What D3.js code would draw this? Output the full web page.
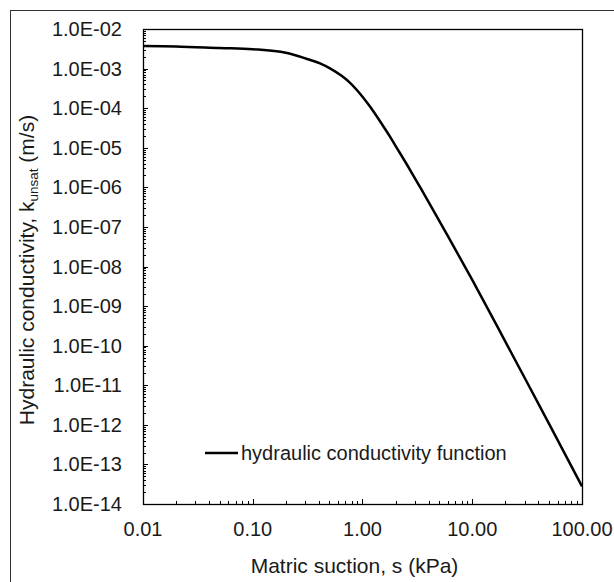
<!DOCTYPE html>
<html>
<head>
<meta charset="utf-8">
<script src="https://cdn.jsdelivr.net/npm/d3@7"></script>
<style>
  html, body { margin: 0; padding: 0; background: #fff; }
  svg { display: block; }
  text { font-family: "Liberation Sans", Arial, sans-serif; fill: #1a1a1a; }
</style>
</head>
<body>
<svg id="chart" width="614" height="582"></svg>
<script>
// Matric suction (kPa)
const suction = [0.01, 0.02, 0.05, 0.1, 0.2, 0.3, 0.41, 0.51, 0.65, 0.77, 1.0, 1.17, 1.5, 1.78, 2.0, 2.7, 3.34, 4.38, 6, 10, 19.2, 30, 50, 100];
// Hydraulic conductivity k_unsat (m/s)
const conductivity = [3.72e-3, 3.63e-3, 3.31e-3, 3.09e-3, 2.51e-3, 1.82e-3, 1.35e-3, 1.0e-3, 6.46e-4, 4.37e-4, 1.95e-4, 1.10e-4, 3.98e-5, 1.91e-5, 1.12e-5, 2.82e-6, 1.02e-6, 2.75e-7, 5.89e-8, 4.57e-9, 1.58e-10, 1.55e-11, 1.07e-12, 2.8e-14];
const xTicks = [0.01, 0.1, 1, 10, 100];
const xTickLabels = ["0.01", "0.10", "1.00", "10.00", "100.00"];
const yTicks = [1e-2, 1e-3, 1e-4, 1e-5, 1e-6, 1e-7, 1e-8, 1e-9, 1e-10, 1e-11, 1e-12, 1e-13, 1e-14];
const yTickLabels = ["1.0E-02", "1.0E-03", "1.0E-04", "1.0E-05", "1.0E-06", "1.0E-07", "1.0E-08", "1.0E-09", "1.0E-10", "1.0E-11", "1.0E-12", "1.0E-13", "1.0E-14"];
const seriesName = "hydraulic conductivity function";

const svg = d3.select("#chart");
const pL = 143, pR = 582, pT = 29, pB = 504;

// outer frame
svg.append("rect").attr("x", 10.5).attr("y", 10.5).attr("width", 700).attr("height", 700)
  .attr("fill", "none").attr("stroke", "#333").attr("stroke-width", 1);

const x = d3.scaleLog().domain([0.01, 100]).range([pL, pR]);
const y = d3.scaleLog().domain([1e-14, 1e-2]).range([pB, pT]);

const g = svg.append("g");

// minor ticks
const xMinor = [];
for (let e = -2; e < 2; e++) for (let m = 2; m <= 9; m++) xMinor.push(m * Math.pow(10, e));
const yMinor = [];
for (let e = -14; e < -2; e++) for (let m = 2; m <= 9; m++) yMinor.push(m * Math.pow(10, e));

g.selectAll(".xminor").data(xMinor).enter().append("line")
  .attr("x1", d => Math.round(x(d)) + 0.5).attr("x2", d => Math.round(x(d)) + 0.5)
  .attr("y1", pB).attr("y2", pB - 3).attr("stroke", "#000");
g.selectAll(".xmajor").data(xTicks).enter().append("line")
  .attr("x1", d => Math.round(x(d)) + 0.5).attr("x2", d => Math.round(x(d)) + 0.5)
  .attr("y1", pB).attr("y2", pB - 5).attr("stroke", "#000");
g.selectAll(".yminor").data(yMinor).enter().append("line")
  .attr("y1", d => Math.round(y(d)) + 0.5).attr("y2", d => Math.round(y(d)) + 0.5)
  .attr("x1", pL).attr("x2", pL + 3).attr("stroke", "#000");
g.selectAll(".ymajor").data(yTicks).enter().append("line")
  .attr("y1", d => Math.round(y(d)) + 0.5).attr("y2", d => Math.round(y(d)) + 0.5)
  .attr("x1", pL).attr("x2", pL + 5).attr("stroke", "#000");

// plot frame
g.append("rect").attr("x", pL + 0.5).attr("y", pT + 0.5)
  .attr("width", pR - pL).attr("height", pB - pT)
  .attr("fill", "none").attr("stroke", "#000").attr("stroke-width", 1.3);

// tick labels
g.selectAll(".xl").data(xTicks).enter().append("text")
  .attr("x", d => x(d)).attr("y", pB + 32)
  .attr("text-anchor", "middle").attr("font-size", 20)
  .text((d, i) => xTickLabels[i]);
g.selectAll(".yl").data(yTicks).enter().append("text")
  .attr("x", pL - 21).attr("y", d => y(d) + 7)
  .attr("text-anchor", "end").attr("font-size", 20)
  .text((d, i) => yTickLabels[i]);

// axis titles
g.append("text").attr("x", (pL + pR) / 2 - 8).attr("y", 573)
  .attr("text-anchor", "middle").attr("font-size", 21)
  .text("Matric suction, s (kPa)");
const yt = g.append("text")
  .attr("transform", `translate(34, 270) rotate(-90)`)
  .attr("text-anchor", "middle").attr("font-size", 21);
yt.append("tspan").text("Hydraulic conductivity, k");
yt.append("tspan").attr("font-size", 13.5).attr("dy", 4).text("unsat");
yt.append("tspan").attr("dy", -4).text(" (m/s)");

// curve
const pts = suction.map((s, i) => [s, conductivity[i]]);
const line = d3.line().x(d => x(d[0])).y(d => y(d[1])).curve(d3.curveMonotoneX);
g.append("path").datum(pts).attr("d", line)
  .attr("fill", "none").attr("stroke", "#000").attr("stroke-width", 2.5);

// legend
g.append("line").attr("x1", 205).attr("x2", 238).attr("y1", 453).attr("y2", 453)
  .attr("stroke", "#000").attr("stroke-width", 2.5);
g.append("text").attr("x", 241).attr("y", 460).attr("font-size", 20).text(seriesName);
</script>
</body>
</html>
